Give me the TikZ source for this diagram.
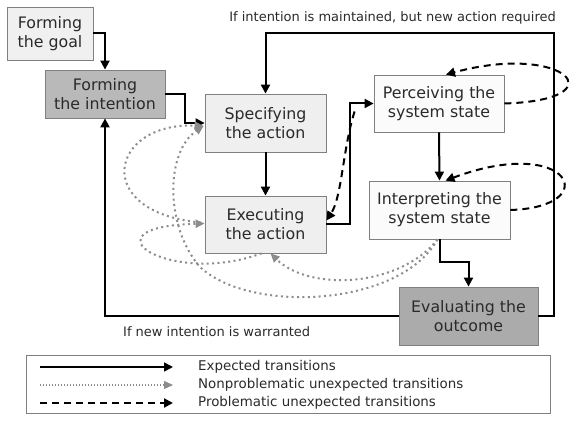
\documentclass[tikz,border=0pt]{standalone}
\usepackage{fontspec}
\setmainfont{DejaVu Sans}
\usetikzlibrary{arrows.meta, calc}

\definecolor{goalfill}{HTML}{F0F0F0}
\definecolor{actfill}{HTML}{EFEFEF}
\definecolor{statefill}{HTML}{FBFBFB}
\definecolor{intentfill}{HTML}{B9B9B9}
\definecolor{evalfill}{HTML}{ABABAB}
\definecolor{dotgray}{HTML}{8C8C8C}
\definecolor{inkgray}{HTML}{2A2A2A}

\tikzset{
  stage/.style={draw=gray, line width=0.8pt, fill=actfill, align=center, inner sep=0pt,
    text=inkgray, font=\fontsize{15.8}{19}\selectfont},
  expected/.style={line width=2pt, -{Triangle[length=9pt,width=9pt]}},
  nonprob/.style={dotgray, line width=2pt, dash pattern=on 2pt off 3.4pt,
    -{Triangle[length=9pt,width=8pt]}},
  prob/.style={line width=2pt, dash pattern=on 7pt off 5pt, -{Triangle[length=9pt,width=9pt]}},
  note/.style={font=\fontsize{13}{15}\selectfont, inner sep=0pt, text=inkgray},
  keytext/.style={font=\fontsize{13.4}{15}\selectfont, inner sep=0pt, anchor=west, text=inkgray}
}

\begin{document}
\begin{tikzpicture}[x=1pt,y=1pt]
        \useasboundingbox (0,0) rectangle (576,422);

        % stages of the cycle
        \node[stage, fill=goalfill, minimum width=86pt, minimum height=53pt] (goal) at (50,388.5) {Forming\\the goal};
        \node[stage, fill=intentfill, minimum width=120pt, minimum height=48pt] (intention) at (105,328) {Forming\\the intention};
        \node[stage, minimum width=121pt, minimum height=58pt] (specify) at (265.5,299) {Specifying\\the action};
        \node[stage, minimum width=121pt, minimum height=57pt] (execute) at (265.5,197.5) {Executing\\the action};
        \node[stage, fill=statefill, minimum width=130pt, minimum height=57pt] (perceive) at (439,318.5) {Perceiving the\\system state};
        \node[stage, fill=statefill, minimum width=141pt, minimum height=58pt] (interpret) at (439.5,212) {Interpreting the\\system state};
        \node[stage, fill=evalfill, minimum width=139pt, minimum height=58pt] (evaluate) at (468.5,106) {Evaluating the\\outcome};

        % expected transitions
        \draw[expected] (goal.east) -| (intention.north);
        \draw[expected] (intention.east) -- ++(20,0) |- (specify.west);
        \draw[expected] (specify.south) -- (execute.north);
        \draw[expected] (execute.east) -- ++(24,0) |- (perceive.west);
        \draw[expected] (perceive.south) -- (interpret.north);
        \draw[expected] (interpret.south) -- ++(0,-23) -| (evaluate.north);
        \coordinate (loopcorner) at (554,389);
        \draw[expected] (evaluate.east) -| (loopcorner) -| (specify.north);
        \draw[expected] (evaluate.west) -| (intention.south);

        \node[note, anchor=east] (keepnote) at (556,404) {If intention is maintained, but new action required};
        \node[note, anchor=west] (newnote) at (123,90) {If new intention is warranted};

        % problematic unexpected transitions
        \draw[prob] ([shift={(-19,-8)}]perceive.west) .. controls (343,275) and (342,225) .. ([yshift=4pt]execute.east);
        \draw[prob] (perceive.east) .. controls (620,322) and (565,380) .. ([xshift=7pt]perceive.north);
        \draw[prob] (interpret.east) .. controls (605,215) and (570,288) .. ([xshift=6pt]interpret.north);

        % nonproblematic unexpected transitions
        \draw[nonprob] ([xshift=-2pt]interpret.south) .. controls (400,115) and (250,108) .. (200,155)
              .. controls (165,195) and (165,270) .. ([shift={(-1,-3)}]specify.west);
        \draw[nonprob] ([xshift=-2pt]interpret.south) .. controls (400,135) and (310,130) .. ([xshift=5pt]execute.south);
        \draw[nonprob] ([shift={(-4,2)}]execute.west) .. controls (90,210) and (110,300) .. ([shift={(-1,-3)}]specify.west);
        \draw[nonprob] ([xshift=-4pt]execute.south) .. controls (170,135) and (78,195) .. ([yshift=1pt]execute.west);

        % legend
        \draw[gray, line width=0.8pt] (26,9) rectangle (550,67);
        \coordinate (keyexp) at (40,55);
        \coordinate (keynon) at (40,37);
        \coordinate (keyprob) at (40,19);
        \draw[expected, line width=1.6pt] (keyexp) -- ++(133,0);
        \draw[nonprob, line width=1.2pt, dash pattern=on 1.2pt off 1.8pt] (keynon) -- ++(133,0);
        \draw[prob] (keyprob) -- ++(133,0);
        \node[keytext] (expkey) at (198,55) {Expected transitions};
        \node[keytext] (nonkey) at (198,37) {Nonproblematic unexpected transitions};
        \node[keytext] (probkey) at (198,19) {Problematic unexpected transitions};
    \end{tikzpicture}
\end{document}
